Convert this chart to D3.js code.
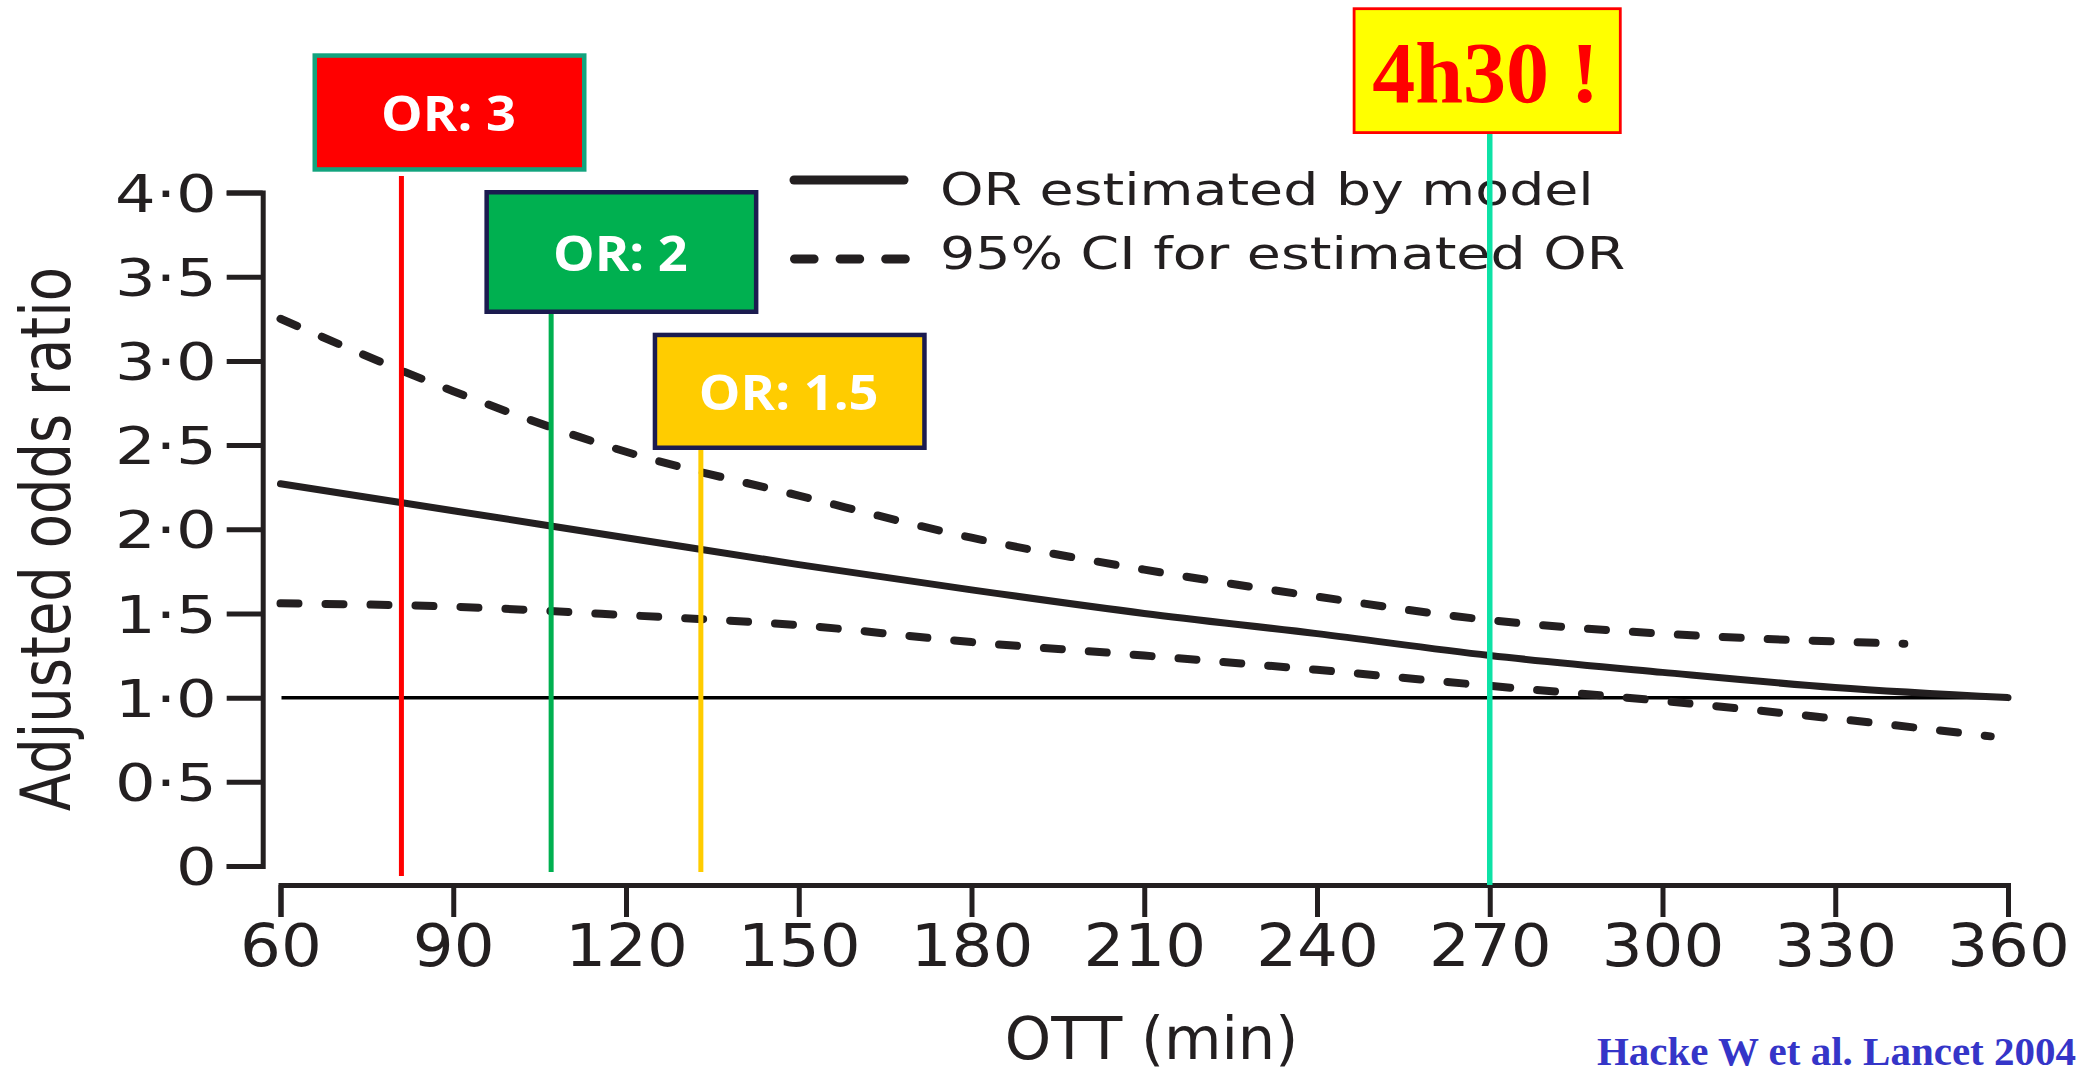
<!DOCTYPE html>
<html>
<head>
<meta charset="utf-8">
<script src="https://cdn.jsdelivr.net/npm/d3@7"></script>
<style>
  html, body { margin: 0; padding: 0; background: #fff; overflow: hidden; }
</style>
</head>
<body>
<svg id="chart" width="2088" height="1074"></svg>
<script>
// ---- data ----------------------------------------------------------------
const ottTicks = [60, 90, 120, 150, 180, 210, 240, 270, 300, 330, 360];
const orTicks = [0, 0.5, 1, 1.5, 2, 2.5, 3, 3.5, 4];
const orTickLabels = ["0", "0·5", "1·0", "1·5", "2·0", "2·5", "3·0", "3·5", "4·0"];

// odds ratio estimated by the model
const modelOtt = [60, 90, 120, 150, 180, 210, 240, 270, 300, 330, 360];
const modelOR  = [2.27, 2.11, 1.95, 1.79, 1.64, 1.50, 1.38, 1.25, 1.15, 1.06, 1.00];

// 95% confidence interval bounds
const ciUpperOtt = [60, 90, 120, 150, 180, 210, 240, 270, 300, 342];
const ciUpper    = [3.25, 2.82, 2.46, 2.20, 1.95, 1.76, 1.60, 1.46, 1.38, 1.32];
const ciLowerOtt = [60, 90, 120, 150, 180, 210, 240, 270, 300, 330, 357];
const ciLower    = [1.56, 1.54, 1.49, 1.43, 1.33, 1.25, 1.165, 1.07, 0.98, 0.875, 0.77];

// treatment-time markers
const markerOtt    = [81, 107, 133, 270];
const markerLabels = ["OR: 3", "OR: 2", "OR: 1.5", "4h30 !"];
const markerColors = ["#ff0000", "#00b050", "#ffcc00", "#0de2a6"];

const legendLabels = ["OR estimated by model", "95% CI for estimated OR"];
const xTitle = "OTT (min)";
const yTitle = "Adjusted odds ratio";
const citation = "Hacke W et al. Lancet 2004";

// ---- layout ---------------------------------------------------------------
const W = 2088, H = 1074;
const INK = "#231f20";
const SANS = "DejaVu Sans";
const STRETCH = 1.23;          // horizontal stretch of the figure lettering

const x = d3.scaleLinear().domain([60, 360]).range([280.5, 2008]);
const y = d3.scaleLinear().domain([0, 4]).range([866, 192.5]);

const svg = d3.select("#chart");
svg.append("rect").attr("width", W).attr("height", H).attr("fill", "#fff");

// stretched text placed at (tx, ty)
function stretchedText(parent, tx, ty, str, sx, sy, attrs) {
  const g = parent.append("g").attr("transform", `translate(${tx},${ty})`);
  const t = g.append("text").attr("transform", `scale(${sx},${sy})`).text(str);
  Object.entries(attrs).forEach(([k, v]) => t.attr(k, v));
  return g;
}

// ---- axes -----------------------------------------------------------------
const yAxis = d3.axisLeft(y)
  .tickValues(orTicks)
  .tickFormat(d => orTickLabels[orTicks.indexOf(d)])
  .tickSize(36)
  .tickPadding(10);
const gy = svg.append("g").attr("transform", "translate(262.7,0)").attr("color", INK).call(yAxis);
gy.select(".domain").attr("stroke-width", 5);
gy.selectAll(".tick line").attr("stroke-width", 5);
gy.selectAll(".tick text")
  .attr("font-family", SANS).attr("font-size", 52).attr("fill", INK)
  .attr("x", -46 / STRETCH).attr("dy", "0.36em")
  .attr("transform", `scale(${STRETCH},1)`);

const xAxis = d3.axisBottom(x)
  .tickValues(ottTicks)
  .tickSize(32)
  .tickPadding(7);
const gx = svg.append("g").attr("transform", "translate(0,885)").attr("color", INK).call(xAxis);
gx.select(".domain").attr("stroke-width", 5);
gx.selectAll(".tick line").attr("stroke-width", 5);
gx.selectAll(".tick text")
  .attr("font-family", SANS).attr("font-size", 59).attr("fill", INK)
  .attr("transform", "scale(1.09,1)");

// axis titles
stretchedText(svg, 1151.5, 1059, xTitle, 1, 1,
  { "font-family": SANS, "font-size": 59, "fill": INK, "text-anchor": "middle" });

const gyt = svg.append("g").attr("transform", "translate(70,539) rotate(-90)");
gyt.append("text")
  .attr("transform", `scale(1,${STRETCH})`)
  .attr("font-family", SANS).attr("font-size", 56).attr("fill", INK)
  .attr("text-anchor", "middle")
  .text(yTitle);

// ---- reference line at OR = 1 ---------------------------------------------
svg.append("line")
  .attr("x1", x(60) + 1).attr("x2", x(360) - 2)
  .attr("y1", y(1)).attr("y2", y(1))
  .attr("stroke", "#000").attr("stroke-width", 3.5);

// ---- curves ---------------------------------------------------------------
const line = d3.line().curve(d3.curveMonotoneX);
const pts = (xs, ys) => xs.map((d, i) => [x(d), y(ys[i])]);

svg.append("path")
  .attr("d", line(pts(ciUpperOtt, ciUpper)))
  .attr("fill", "none").attr("stroke", INK).attr("stroke-width", 8)
  .attr("stroke-linecap", "round").attr("stroke-dasharray", "18 27");

svg.append("path")
  .attr("d", line(pts(ciLowerOtt, ciLower)))
  .attr("fill", "none").attr("stroke", INK).attr("stroke-width", 8)
  .attr("stroke-linecap", "round").attr("stroke-dasharray", "18 27");

svg.append("path")
  .attr("d", line(pts(modelOtt, modelOR)))
  .attr("fill", "none").attr("stroke", INK).attr("stroke-width", 7)
  .attr("stroke-linecap", "round");

// ---- legend ---------------------------------------------------------------
const legend = svg.append("g");
legend.append("line")
  .attr("x1", 794).attr("x2", 904).attr("y1", 180).attr("y2", 180)
  .attr("stroke", INK).attr("stroke-width", 9).attr("stroke-linecap", "round");
legend.append("line")
  .attr("x1", 794.5).attr("x2", 905.5).attr("y1", 259).attr("y2", 259)
  .attr("stroke", INK).attr("stroke-width", 9).attr("stroke-linecap", "round")
  .attr("stroke-dasharray", "19.6 26");
legendLabels.forEach((s, i) => {
  stretchedText(legend, 940, 205 + i * 64, s, STRETCH, 1,
    { "font-family": SANS, "font-size": 45, "fill": INK });
});

// ---- time markers and their labels ----------------------------------------
const markerSpan = [[176, 876], [314, 872], [450, 872], [134, 885]];
markerOtt.forEach((t, i) => {
  svg.append("line")
    .attr("x1", x(t)).attr("x2", x(t))
    .attr("y1", markerSpan[i][0]).attr("y2", markerSpan[i][1])
    .attr("stroke", markerColors[i]).attr("stroke-width", i === 3 ? 5.5 : 5);
});

const boxLayout = [
  { left: 312.5, top: 53.3,  w: 274, h: 118.4, stroke: "#12a47e", sw: 4.5 },
  { left: 484.4, top: 190,   w: 274, h: 124,   stroke: "#1b1b4f", sw: 4.5 },
  { left: 652.7, top: 332.7, w: 274, h: 117.3, stroke: "#1b1b4f", sw: 4.5 },
  { left: 1352.7, top: 7.3,  w: 269, h: 126.7, stroke: "#ff0000", sw: 2.8 }
];
const boxFills = ["#ff0000", "#00b050", "#ffcc00", "#ffff00"];

boxLayout.forEach((b, i) => {
  svg.append("rect")
    .attr("x", b.left + b.sw / 2).attr("y", b.top + b.sw / 2)
    .attr("width", b.w - b.sw).attr("height", b.h - b.sw)
    .attr("fill", boxFills[i]).attr("stroke", b.stroke).attr("stroke-width", b.sw);
});

// "OR" labels: white bold sans
[0, 1, 2].forEach(i => {
  const b = boxLayout[i];
  stretchedText(svg, b.left + b.w / 2 - 1, b.top + b.h / 2 + 18.5, markerLabels[i], 1.07, 1,
    { "font-family": "Open Sans", "font-weight": 700, "font-size": 49,
      "fill": "#ffffff", "text-anchor": "middle" });
});

// 4h30 label: red bold serif
{
  const b = boxLayout[3];
  stretchedText(svg, b.left + b.w / 2 - 1.5, 101.7, markerLabels[3], 1, 1,
    { "font-family": "Liberation Serif", "font-weight": 700, "font-size": 86,
      "fill": "#ff0000", "text-anchor": "middle" });
}

// ---- citation -------------------------------------------------------------
stretchedText(svg, 2076, 1065, citation, 1, 1,
  { "font-family": "Liberation Serif", "font-weight": 700, "font-size": 41,
    "fill": "#3535c8", "text-anchor": "end" });
</script>
</body>
</html>
